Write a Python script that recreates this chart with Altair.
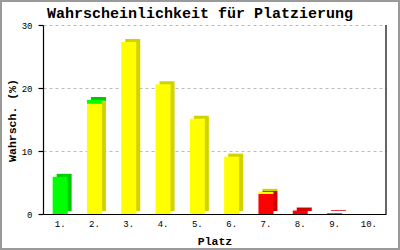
import altair as alt
import pandas as pd

title_text = "Wahrscheinlichkeit für Platzierung"
places = ["1.", "2.", "3.", "4.", "5.", "6.", "7.", "8.", "9.", "10."]
green = [5.9, 0.6, 0, 0, 0, 0, 0, 0, 0, 0]
yellow = [0, 17.5, 27.3, 20.6, 15.1, 9.1, 0.35, 0, 0, 0]
red = [0, 0, 0, 0, 0, 0, 3.17, 0.55, 0.12, 0]

seg_names = ["red", "yellow", "green"]
seg_vals = [red, yellow, green]
front_cols = ["#FF0000", "#FFFF00", "#00FF00"]
side_cols = ["#CC0000", "#D2D200", "#00CC00"]

rows = []
for k, (name, vals) in enumerate(zip(seg_names, seg_vals)):
    for p, v in zip(places, vals):
        rows.append({"Platz": p, "seg": name, "ord": k, "val": v})
df = pd.DataFrame(rows)

W, H = 343, 189
PL, PT, PR, PB = 43, 25, 14, 36
MONO = "Liberation Mono"

base = alt.Chart(df).transform_filter("datum.val > 0")

x_enc = alt.X("Platz:N", sort=places,
              scale=alt.Scale(domain=places, paddingInner=0, paddingOuter=0),
              axis=alt.Axis(title="Platz", labelAngle=0, ticks=False, labelPadding=5,
                            labelFont=MONO, labelFontSize=9, labelColor="black",
                            titleFont=MONO, titleFontSize=11.5, titleFontWeight="bold",
                            titleY=30, titleBaseline="alphabetic",
                            domainColor="black", domainWidth=1.2, grid=False))
y_enc = alt.Y("val:Q", stack="zero",
              scale=alt.Scale(domain=[0, 30], nice=False),
              axis=alt.Axis(title="Wahrsch. (%)", values=[0, 10, 20, 30],
                            tickSize=5, tickColor="black", tickWidth=1.2,
                            labelFont=MONO, labelFontSize=9, labelColor="black", labelPadding=6,
                            titleFont=MONO, titleFontSize=11.5, titleFontWeight="bold",
                            titleX=-31, titleY=95, titleAngle=-90,
                            titleBaseline="middle", titleAlign="center",
                            domainColor="black", domainWidth=1.2,
                            grid=True, gridColor="#BBBBBB", gridDash=[3, 3], gridWidth=1))

side = base.mark_bar(size=15, xOffset=4, yOffset=-3).encode(
    x=x_enc, y=y_enc,
    order=alt.Order("ord:Q"),
    color=alt.Color("seg:N", scale=alt.Scale(domain=seg_names, range=side_cols), legend=None),
)
front = base.mark_bar(size=15).encode(
    x=x_enc, y=y_enc,
    order=alt.Order("ord:Q"),
    color=alt.Color("seg:N", scale=alt.Scale(domain=seg_names, range=front_cols), legend=None),
)

one = pd.DataFrame({"t": [title_text]})

right_line = alt.Chart(one).mark_rule(color="black", strokeWidth=1.2).encode(
    x=alt.value(W), y=alt.value(0), y2=alt.value(H))

frame = alt.Chart(one).mark_rect(
    fill=None, stroke="#9A9A9A", strokeWidth=2).encode(
    x=alt.value(-PL + 1), x2=alt.value(W + PR - 1),
    y=alt.value(-PT + 1), y2=alt.value(H + PB - 1))

title = alt.Chart(one).mark_text(
    font=MONO, fontSize=15, fontWeight="bold", color="black",
    align="center", baseline="alphabetic").encode(
    text="t:N", x=alt.value(W / 2 - 14.5), y=alt.value(-7))

chart = alt.layer(side, front, right_line, frame, title).resolve_scale(color="independent").properties(
    width=W, height=H,
    padding={"left": PL, "top": PT, "right": PR, "bottom": PB},
    autosize=alt.AutoSizeParams(type="none"),
    background="white",
).configure_view(stroke=None)

chart.save("out.html", embed_options={"renderer": "svg", "actions": False})
